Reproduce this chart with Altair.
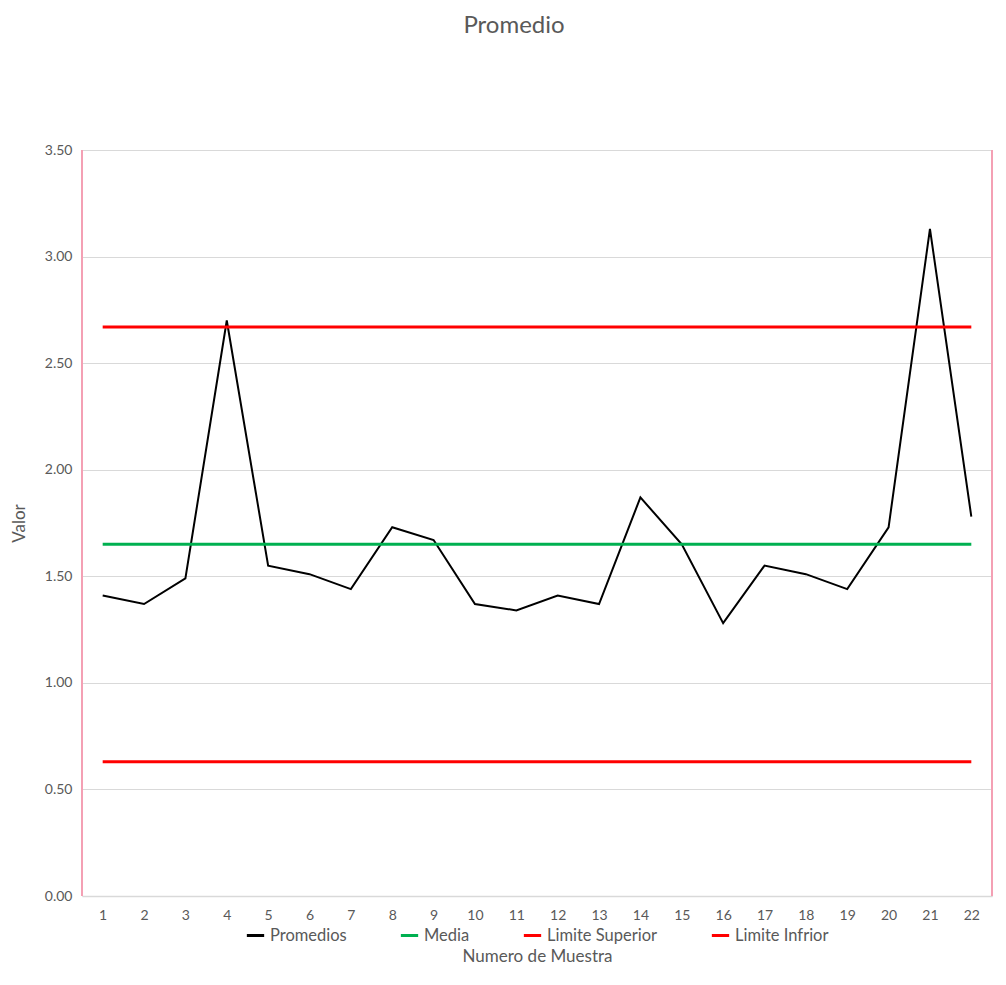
import altair as alt
import pandas as pd

muestras = list(range(1, 23))
promedios = [1.41, 1.37, 1.49, 2.70, 1.55, 1.51, 1.44, 1.73, 1.67, 1.37, 1.34,
             1.41, 1.37, 1.87, 1.65, 1.28, 1.55, 1.51, 1.44, 1.73, 3.13, 1.78]
media = 1.65
lim_sup = 2.67
lim_inf = 0.63

series_names = ["Promedios", "Media", "Limite Superior", "Limite Infrior"]
series_colors = ["#000000", "#00b050", "#ff0000", "#ff0000"]

rows = []
for m, p in zip(muestras, promedios):
    rows.append({"Muestra": m, "Valor": p, "Serie": "Promedios"})
for name, val in [("Media", media), ("Limite Superior", lim_sup), ("Limite Infrior", lim_inf)]:
    for m in muestras:
        rows.append({"Muestra": m, "Valor": val, "Serie": name})
df = pd.DataFrame(rows)

W, H = 910, 746
FONT = "Lato"
GRAY = "#595959"

base = alt.Chart(df)

lines = base.mark_line(strokeJoin="miter").encode(
    x=alt.X("Muestra:O", scale=alt.Scale(type="point", padding=0.5),
            axis=alt.Axis(title="Numero de Muestra", labelAngle=0, ticks=False,
                          domainColor="#d9d9d9", domainWidth=1.5, labelPadding=12,
                          titlePadding=26, grid=False)),
    y=alt.Y("Valor:Q", scale=alt.Scale(domain=[0, 3.5]),
            axis=alt.Axis(title="Valor", format=".2f",
                          values=[0, 0.5, 1, 1.5, 2, 2.5, 3, 3.5],
                          ticks=False, domain=False, labelPadding=10,
                          titlePadding=16, gridColor="#d9d9d9", gridWidth=1.2)),
    color=alt.Color("Serie:N", scale=alt.Scale(domain=series_names, range=series_colors),
                    sort=series_names,
                    legend=alt.Legend(title=None, orient="none", direction="horizontal",
                                      legendX=163, legendY=775, symbolType="stroke",
                                      symbolSize=300, symbolStrokeWidth=3,
                                      columnPadding=47, labelFontSize=16.5,
                                      labelColor=GRAY, labelFont=FONT, labelOffset=4)),
    strokeWidth=alt.condition(alt.datum.Serie == "Promedios", alt.value(2), alt.value(3)),
    order=alt.Order("Muestra:Q"),
)

border_left = alt.Chart(pd.DataFrame({"v": [0]})).mark_rule(color="#f4a0b4", strokeWidth=2).encode(
    x=alt.value(0), y=alt.value(0), y2=alt.value(H))
border_right = alt.Chart(pd.DataFrame({"v": [0]})).mark_rule(color="#f4a0b4", strokeWidth=2).encode(
    x=alt.value(W), y=alt.value(0), y2=alt.value(H))

chart = alt.layer(lines, border_left, border_right).properties(
    width=W, height=H,
    title=alt.TitleParams("Promedio", fontSize=24, font=FONT, color=GRAY,
                          fontWeight="normal", anchor="middle", dx=-23, offset=105),
    autosize=alt.AutoSizeParams(type="none"),
    padding={"left": 74, "top": 142, "right": 6, "bottom": 81},
    background="white",
).configure_view(stroke=None).configure_axis(
    labelFont=FONT, titleFont=FONT, labelColor=GRAY, titleColor=GRAY,
    labelFontSize=14, titleFontSize=17, titleFontWeight="normal",
)

chart.save("out.html", embed_options={"renderer": "svg", "actions": False})
